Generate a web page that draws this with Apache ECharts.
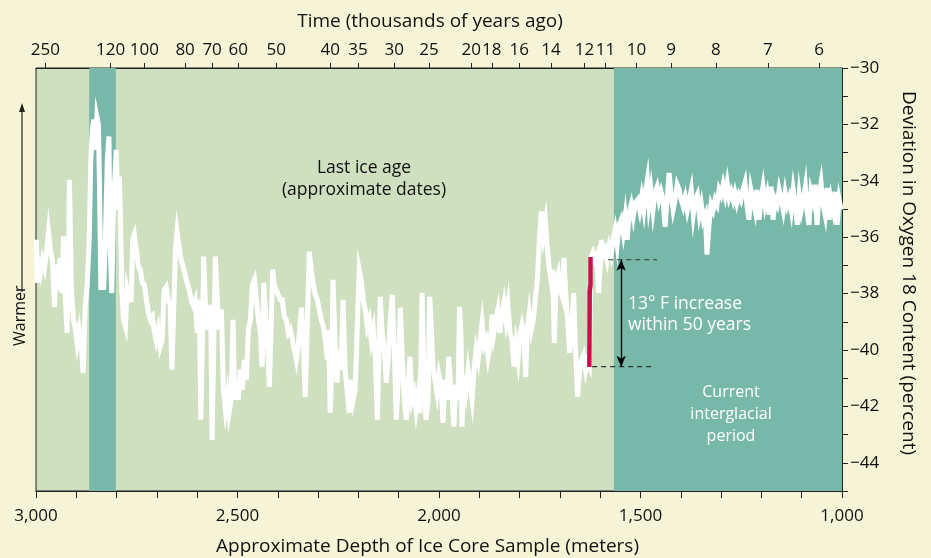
<!DOCTYPE html>
<html><head><meta charset="utf-8">
<script src="https://cdn.jsdelivr.net/npm/echarts@6/dist/echarts.min.js"></script>
<style>html,body{margin:0;padding:0;background:#f6f4d7;} #c{width:931px;height:558px;}</style>
</head><body><div id="c"></div>
<script>
// ---- data ----
const depthTickValues = [3000, 2500, 2000, 1500, 1000];
const ageLabels = ['250','120','100','80','70','60','50','40','35','30','25','20','18','16','14','12','11','10','9','8','7','6'];
const ageDepths = [2977,2815,2731,2630,2563,2498,2404,2270,2201,2111,2025,1920,1869,1801,1722,1639,1587,1510,1424,1313,1184,1057];
const warmBands = [[2868, 2802], [1566, 1000]];
const coreSamples = [
[2999,-36.09],[2997,-37.62],[2994,-36.91],[2989,-37.26],[2984,-36.80],[2979,-37.08],[2974,-36.52],[2969,-35.80],[2964,-36.45],[2959,-36.87],
[2954,-38.47],[2950,-36.97],[2945,-37.87],[2940,-36.73],[2935,-37.98],[2932,-35.97],[2927,-38.22],[2923,-39.39],[2920,-37.87],[2917,-33.96],
[2912,-37.87],[2907,-38.93],[2903,-39.18],[2898,-39.75],[2893,-39.28],[2888,-39.82],[2883,-40.81],[2878,-38.47],[2873,-37.69],[2868,-36.09],
[2864,-33.25],[2860,-32.19],[2857,-31.83],[2853,-32.90],[2849,-31.72],[2845,-32.01],[2842,-34.67],[2839,-37.87],[2836,-36.09],[2832,-37.87],
[2828,-36.09],[2823,-33.25],[2819,-32.43],[2816,-36.45],[2812,-37.98],[2807,-34.67],[2801,-32.90],[2797,-35.03],[2793,-33.85],[2791,-34.91],
[2787,-37.87],[2783,-38.93],[2778,-39.18],[2774,-37.87],[2769,-38.22],[2764,-38.22],[2760,-36.09],[2756,-35.91],[2751,-36.45],[2746,-37.04],
[2741,-37.15],[2736,-37.62],[2731,-37.69],[2726,-38.22],[2721,-38.68],[2716,-38.93],[2711,-38.82],[2707,-39.28],[2702,-39.64],[2697,-39.28],
[2692,-39.89],[2687,-39.64],[2682,-37.87],[2677,-37.76],[2672,-38.22],[2667,-38.40],[2663,-40.70],[2659,-38.93],[2654,-36.45],[2650,-35.80],
[2645,-36.33],[2640,-36.80],[2635,-37.04],[2630,-37.33],[2625,-37.62],[2620,-37.87],[2615,-38.22],[2610,-38.40],[2605,-38.22],[2600,-39.39],
[2595,-38.22],[2591,-42.47],[2587,-39.64],[2584,-36.69],[2580,-38.22],[2575,-39.28],[2570,-38.40],[2566,-39.28],[2563,-43.19],[2559,-39.99],
[2555,-36.69],[2550,-38.22],[2545,-39.28],[2540,-38.57],[2535,-41.41],[2530,-42.12],[2525,-41.59],[2521,-42.23],[2516,-41.77],[2511,-38.93],
[2507,-41.77],[2503,-41.06],[2498,-41.77],[2493,-40.70],[2488,-41.41],[2483,-40.35],[2478,-41.06],[2473,-39.28],[2468,-38.93],[2463,-37.69],
[2458,-37.51],[2453,-38.22],[2448,-38.93],[2443,-39.39],[2439,-40.59],[2435,-37.62],[2431,-38.57],[2426,-39.64],[2421,-41.31],[2416,-38.93],
[2413,-37.15],[2409,-37.69],[2404,-37.87],[2399,-38.04],[2394,-38.22],[2389,-38.22],[2384,-38.82],[2379,-38.93],[2374,-39.39],[2369,-39.28],
[2364,-39.64],[2359,-39.99],[2354,-40.35],[2349,-39.82],[2344,-38.93],[2341,-38.50],[2337,-39.64],[2332,-41.66],[2327,-39.28],[2322,-36.52],
[2317,-37.15],[2312,-37.69],[2307,-38.04],[2302,-38.22],[2297,-38.57],[2292,-38.93],[2287,-39.18],[2282,-39.64],[2277,-40.35],[2274,-39.28],
[2270,-42.23],[2266,-40.70],[2263,-37.51],[2258,-39.64],[2253,-41.16],[2248,-39.99],[2243,-40.70],[2238,-38.22],[2233,-40.70],[2228,-41.41],
[2223,-42.23],[2218,-41.06],[2213,-41.77],[2208,-41.41],[2203,-39.28],[2198,-37.15],[2193,-37.51],[2188,-38.22],[2183,-38.57],[2178,-39.18],
[2173,-38.93],[2168,-39.64],[2163,-39.28],[2158,-40.35],[2153,-42.47],[2149,-39.99],[2146,-38.11],[2141,-39.39],[2136,-39.99],[2131,-41.16],
[2126,-40.35],[2121,-38.93],[2116,-38.04],[2111,-39.99],[2106,-42.47],[2101,-41.06],[2096,-38.50],[2091,-40.35],[2086,-41.77],[2081,-42.47],
[2077,-41.41],[2072,-40.24],[2067,-41.77],[2062,-41.52],[2057,-42.12],[2052,-41.59],[2047,-42.23],[2042,-37.98],[2037,-41.06],[2032,-42.47],
[2027,-41.77],[2023,-38.11],[2020,-38.93],[2015,-40.59],[2010,-41.06],[2005,-41.52],[2000,-40.88],[1995,-41.24],[1990,-42.58],[1985,-41.06],
[1980,-41.77],[1976,-40.24],[1972,-41.06],[1968,-41.59],[1963,-42.72],[1958,-41.24],[1953,-41.77],[1949,-38.47],[1945,-39.64],[1943,-42.72],
[1938,-40.88],[1933,-41.41],[1928,-40.70],[1923,-41.24],[1918,-41.77],[1913,-40.70],[1908,-39.99],[1903,-40.35],[1898,-39.64],[1893,-39.04],
[1888,-39.82],[1883,-39.64],[1878,-40.24],[1873,-39.82],[1868,-38.75],[1864,-39.39],[1859,-38.93],[1854,-38.57],[1849,-39.39],[1844,-38.75],
[1839,-38.33],[1834,-38.93],[1829,-38.40],[1824,-39.39],[1819,-39.64],[1814,-40.59],[1809,-39.82],[1804,-40.35],[1799,-39.46],[1794,-39.11],
[1789,-39.46],[1785,-40.95],[1781,-39.28],[1776,-38.68],[1771,-39.28],[1766,-38.93],[1761,-38.22],[1756,-37.51],[1751,-36.09],[1746,-35.09],
[1741,-35.91],[1736,-35.45],[1731,-36.45],[1726,-37.15],[1721,-37.62],[1718,-37.15],[1714,-39.75],[1709,-37.51],[1704,-37.26],[1699,-37.87],
[1694,-38.11],[1690,-36.73],[1686,-37.87],[1681,-38.93],[1676,-40.10],[1671,-39.28],[1666,-37.98],[1661,-40.10],[1656,-41.66],[1651,-40.70],
[1646,-40.35],[1641,-40.17],[1636,-40.70],[1632,-40.42],[1627,-40.59],[1623,-36.73],[1618,-36.55],[1613,-36.80],[1608,-36.62],[1604,-37.98],
[1599,-36.80],[1597,-36.09],[1593,-36.62],[1588,-36.45],[1583,-36.80],[1578,-36.33],[1573,-36.62],[1568,-36.09],[1563,-35.73],[1558,-36.27],
[1553,-35.56],[1548,-35.38],[1543,-35.84],[1538,-35.27],[1533,-36.09],[1528,-35.13],[1523,-34.84],[1518,-35.27],[1513,-34.78],[1507,-34.67],
[1502,-35.03],[1497,-34.56],[1492,-35.03],[1487,-34.32],[1483,-33.96],[1479,-34.84],[1474,-34.32],[1469,-35.03],[1464,-34.43],[1459,-34.22],
[1454,-34.67],[1449,-34.39],[1444,-34.67],[1439,-35.63],[1434,-34.67],[1429,-33.72],[1424,-34.50],[1419,-35.03],[1414,-34.67],[1409,-34.14],
[1404,-34.32],[1399,-34.67],[1394,-34.91],[1389,-34.60],[1384,-35.03],[1379,-34.67],[1374,-34.32],[1369,-35.20],[1364,-34.67],[1359,-34.50],
[1354,-35.20],[1349,-34.84],[1344,-35.38],[1339,-35.20],[1335,-36.62],[1330,-35.56],[1325,-34.84],[1320,-35.03],[1315,-34.67],[1310,-34.84],
[1305,-34.32],[1300,-34.50],[1295,-34.14],[1290,-34.50],[1285,-34.07],[1280,-34.60],[1275,-34.39],[1270,-34.67],[1266,-34.43],[1261,-34.78],
[1256,-34.50],[1251,-34.67],[1246,-34.32],[1241,-34.07],[1236,-34.84],[1231,-35.38],[1226,-34.32],[1221,-34.67],[1216,-35.03],[1211,-34.32],
[1206,-35.38],[1201,-34.67],[1196,-34.21],[1191,-34.84],[1186,-34.50],[1181,-35.20],[1176,-34.21],[1171,-35.38],[1166,-34.67],[1161,-34.84],
[1156,-34.32],[1151,-34.67],[1146,-35.03],[1141,-34.43],[1136,-34.84],[1131,-34.60],[1126,-35.03],[1121,-34.32],[1116,-34.84],[1111,-35.56],
[1106,-34.50],[1101,-35.03],[1096,-34.67],[1091,-34.21],[1087,-35.03],[1082,-35.56],[1077,-34.39],[1072,-34.67],[1067,-34.14],[1062,-35.56],
[1057,-34.50],[1052,-34.07],[1047,-34.84],[1042,-35.20],[1037,-34.25],[1032,-35.38],[1027,-34.67],[1022,-35.03],[1017,-34.39],[1012,-35.56],
[1007,-34.67],[1002,-35.03]
];
const abruptRise = [[1627,-40.60],[1626,-37.90],[1624,-37.70],[1624,-36.70]];
const upperGuide = [[1580,-36.80],[1459,-36.80]];
const lowerGuide = [[1620,-40.59],[1464,-40.59]];
const riseArrow = [[1548,-36.80],[1548,-40.59]];

// ---- chart ----
const FONT = "'Open Sans', 'Noto Sans', sans-serif";
const W = 500;
const chart = echarts.init(document.getElementById('c'), null, {renderer: 'canvas'});
const fmtAge = v => { const i = ageDepths.indexOf(v); return i >= 0 ? ageLabels[i] : ''; };
chart.setOption({
  backgroundColor: '#f6f4d7',
  animation: false,
  grid: {left: 36, right: 89, top: 68, bottom: 67, outerBoundsMode: 'none', containLabel: false,
    show: true, backgroundColor: '#cee0c0', borderColor: '#222', borderWidth: 1},
  xAxis: [{
    type: 'value', position: 'bottom', min: 1000, max: 3000, interval: 500, inverse: true,
    axisLine: {show: true, lineStyle: {color: '#222', width: 1}},
    axisTick: {show: true, length: 7, lineStyle: {color: '#222'}},
    minorTick: {show: true, splitNumber: 5, length: 7, lineStyle: {color: '#222'}},
    splitLine: {show: false},
    axisLabel: {margin: 17, fontFamily: FONT, fontWeight: W, fontSize: 17, color: '#111', formatter: v => v.toLocaleString('en-US')},
    name: 'Approximate Depth of Ice Core Sample (meters)', nameLocation: 'middle', nameGap: 46,
    nameTextStyle: {fontFamily: FONT, fontWeight: W, fontSize: 19, color: '#111', padding: [0, 23, 0, 0]}
  }, {
    type: 'value', position: 'top', min: 1000, max: 3000, inverse: true,
    axisLine: {show: true, lineStyle: {color: '#222', width: 1}},
    axisTick: {show: true, length: 5, customValues: ageDepths, lineStyle: {color: '#222'}},
    splitLine: {show: false},
    axisLabel: {margin: 9, customValues: ageDepths, fontFamily: FONT, fontWeight: W, fontSize: 17, color: '#111', formatter: fmtAge},
    name: 'Time (thousands of years ago)', nameLocation: 'middle', nameGap: 37,
    nameTextStyle: {fontFamily: FONT, fontWeight: W, fontSize: 19, color: '#111', padding: [0, 18, 0, 0]}
  }],
  yAxis: [{
    type: 'value', position: 'right', min: -45, max: -30, interval: 1,
    axisLine: {show: true, lineStyle: {color: '#222', width: 1}},
    axisTick: {show: true, length: 6, lineStyle: {color: '#222'}},
    splitLine: {show: false},
    axisLabel: {margin: 8, fontFamily: FONT, fontWeight: W, fontSize: 17, color: '#111',
      formatter: v => (Math.round(v) % 2 === 0 ? '\u2212' + Math.abs(v) : '')},
    name: 'Deviation in Oxygen 18 Content (percent)', nameLocation: 'middle', nameRotate: -90, nameGap: 57,
    nameTextStyle: {fontFamily: FONT, fontWeight: W, fontSize: 19, color: '#111', padding: [0, 13, 0, 0]}
  }],
  series: [{
    type: 'line', data: [], silent: true,
    markArea: {silent: true, itemStyle: {color: '#77b8a8'},
      data: warmBands.map(b => [{xAxis: b[0]}, {xAxis: b[1]}])}
  }, {
    name: 'core', type: 'line', data: coreSamples, showSymbol: false, symbol: 'none', silent: true,
    lineStyle: {color: '#ffffff', width: 5, join: 'miter'}, z: 3
  }, {
    type: 'line', data: abruptRise, showSymbol: false, symbol: 'none', silent: true,
    lineStyle: {color: '#c8104c', width: 4.5}, z: 4
  }, {
    type: 'line', data: upperGuide, showSymbol: false, symbol: 'none', silent: true,
    lineStyle: {color: '#333', width: 1.2, type: [5, 4]}, z: 4
  }, {
    type: 'line', data: lowerGuide, showSymbol: false, symbol: 'none', silent: true,
    lineStyle: {color: '#333', width: 1.2, type: [5, 4]}, z: 4
  }, {
    type: 'line', data: [], silent: true, z: 5,
    markLine: {silent: true, symbol: ['arrow', 'arrow'], symbolSize: [7, 11],
      lineStyle: {color: '#000', width: 1.3, type: 'solid'}, label: {show: false},
      data: [[{coord: riseArrow[0]}, {coord: riseArrow[1]}]]}
  }],
  graphic: [
    {type: 'text', x: 364, y: 157, style: {text: 'Last ice age\n(approximate dates)', font: W + " 17.5px " + FONT, fill: '#111', align: 'center', lineHeight: 22}, z: 10},
    {type: 'text', x: 628, y: 294, style: {text: '13\u00b0 F increase\nwithin 50 years', font: W + " 17.5px " + FONT, fill: '#ffffff', lineHeight: 21}, z: 10},
    {type: 'text', x: 731, y: 381, style: {text: 'Current\ninterglacial\nperiod', font: W + " 16px " + FONT, fill: '#ffffff', align: 'center', lineHeight: 22}, z: 10},
    {type: 'text', x: 12, y: 346, rotation: Math.PI / 2, style: {text: 'Warmer', font: W + " 16px " + FONT, fill: '#111'}, z: 10},
    {type: 'line', shape: {x1: 22, y1: 292, x2: 22, y2: 110}, style: {stroke: '#222', lineWidth: 1.2}, z: 10},
    {type: 'polygon', shape: {points: [[22, 103], [19, 112], [25, 112]]}, style: {fill: '#222'}, z: 10}
  ]
});
</script></body></html>
